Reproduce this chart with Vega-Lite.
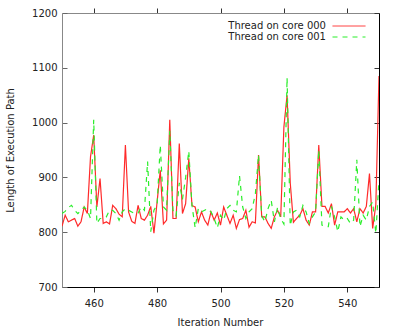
{
  "$schema": "https://vega.github.io/schema/vega-lite/v6.json",
  "width": 317,
  "height": 274,
  "autosize": {"type": "none"},
  "padding": {"left": 62, "top": 13, "right": 20, "bottom": 45},
  "config": {
    "view": {"stroke": null},
    "font": "DejaVu Sans",
    "axis": {"grid": false, "labelFontSize": 10, "titleFontSize": 10, "titleFontWeight": "normal", "labelColor": "#222", "titleColor": "#222", "labelFont": "DejaVu Sans", "titleFont": "DejaVu Sans"}
  },
  "data": {"values": [
    {"iteration":450,"thread":"Thread on core 000","length":811},
    {"iteration":451,"thread":"Thread on core 000","length":831},
    {"iteration":452,"thread":"Thread on core 000","length":819},
    {"iteration":453,"thread":"Thread on core 000","length":822},
    {"iteration":454,"thread":"Thread on core 000","length":825},
    {"iteration":455,"thread":"Thread on core 000","length":811},
    {"iteration":456,"thread":"Thread on core 000","length":819},
    {"iteration":457,"thread":"Thread on core 000","length":846},
    {"iteration":458,"thread":"Thread on core 000","length":834},
    {"iteration":459,"thread":"Thread on core 000","length":938},
    {"iteration":460,"thread":"Thread on core 000","length":977},
    {"iteration":461,"thread":"Thread on core 000","length":846},
    {"iteration":462,"thread":"Thread on core 000","length":898},
    {"iteration":463,"thread":"Thread on core 000","length":816},
    {"iteration":464,"thread":"Thread on core 000","length":819},
    {"iteration":465,"thread":"Thread on core 000","length":815},
    {"iteration":466,"thread":"Thread on core 000","length":849},
    {"iteration":467,"thread":"Thread on core 000","length":843},
    {"iteration":468,"thread":"Thread on core 000","length":833},
    {"iteration":469,"thread":"Thread on core 000","length":828},
    {"iteration":470,"thread":"Thread on core 000","length":959},
    {"iteration":471,"thread":"Thread on core 000","length":837},
    {"iteration":472,"thread":"Thread on core 000","length":820},
    {"iteration":473,"thread":"Thread on core 000","length":816},
    {"iteration":474,"thread":"Thread on core 000","length":849},
    {"iteration":475,"thread":"Thread on core 000","length":825},
    {"iteration":476,"thread":"Thread on core 000","length":822},
    {"iteration":477,"thread":"Thread on core 000","length":831},
    {"iteration":478,"thread":"Thread on core 000","length":847},
    {"iteration":479,"thread":"Thread on core 000","length":798},
    {"iteration":480,"thread":"Thread on core 000","length":855},
    {"iteration":481,"thread":"Thread on core 000","length":913},
    {"iteration":482,"thread":"Thread on core 000","length":815},
    {"iteration":483,"thread":"Thread on core 000","length":822},
    {"iteration":484,"thread":"Thread on core 000","length":1005},
    {"iteration":485,"thread":"Thread on core 000","length":825},
    {"iteration":486,"thread":"Thread on core 000","length":825},
    {"iteration":487,"thread":"Thread on core 000","length":962},
    {"iteration":488,"thread":"Thread on core 000","length":834},
    {"iteration":489,"thread":"Thread on core 000","length":852},
    {"iteration":490,"thread":"Thread on core 000","length":935},
    {"iteration":491,"thread":"Thread on core 000","length":849},
    {"iteration":492,"thread":"Thread on core 000","length":846},
    {"iteration":493,"thread":"Thread on core 000","length":819},
    {"iteration":494,"thread":"Thread on core 000","length":837},
    {"iteration":495,"thread":"Thread on core 000","length":822},
    {"iteration":496,"thread":"Thread on core 000","length":813},
    {"iteration":497,"thread":"Thread on core 000","length":837},
    {"iteration":498,"thread":"Thread on core 000","length":822},
    {"iteration":499,"thread":"Thread on core 000","length":835},
    {"iteration":500,"thread":"Thread on core 000","length":813},
    {"iteration":501,"thread":"Thread on core 000","length":846},
    {"iteration":502,"thread":"Thread on core 000","length":831},
    {"iteration":503,"thread":"Thread on core 000","length":816},
    {"iteration":504,"thread":"Thread on core 000","length":831},
    {"iteration":505,"thread":"Thread on core 000","length":807},
    {"iteration":506,"thread":"Thread on core 000","length":823},
    {"iteration":507,"thread":"Thread on core 000","length":825},
    {"iteration":508,"thread":"Thread on core 000","length":840},
    {"iteration":509,"thread":"Thread on core 000","length":809},
    {"iteration":510,"thread":"Thread on core 000","length":819},
    {"iteration":511,"thread":"Thread on core 000","length":817},
    {"iteration":512,"thread":"Thread on core 000","length":941},
    {"iteration":513,"thread":"Thread on core 000","length":828},
    {"iteration":514,"thread":"Thread on core 000","length":828},
    {"iteration":515,"thread":"Thread on core 000","length":816},
    {"iteration":516,"thread":"Thread on core 000","length":807},
    {"iteration":517,"thread":"Thread on core 000","length":828},
    {"iteration":518,"thread":"Thread on core 000","length":840},
    {"iteration":519,"thread":"Thread on core 000","length":828},
    {"iteration":520,"thread":"Thread on core 000","length":992},
    {"iteration":521,"thread":"Thread on core 000","length":1050},
    {"iteration":522,"thread":"Thread on core 000","length":890},
    {"iteration":523,"thread":"Thread on core 000","length":818},
    {"iteration":524,"thread":"Thread on core 000","length":825},
    {"iteration":525,"thread":"Thread on core 000","length":831},
    {"iteration":526,"thread":"Thread on core 000","length":843},
    {"iteration":527,"thread":"Thread on core 000","length":822},
    {"iteration":528,"thread":"Thread on core 000","length":813},
    {"iteration":529,"thread":"Thread on core 000","length":837},
    {"iteration":530,"thread":"Thread on core 000","length":837},
    {"iteration":531,"thread":"Thread on core 000","length":959},
    {"iteration":532,"thread":"Thread on core 000","length":847},
    {"iteration":533,"thread":"Thread on core 000","length":847},
    {"iteration":534,"thread":"Thread on core 000","length":835},
    {"iteration":535,"thread":"Thread on core 000","length":852},
    {"iteration":536,"thread":"Thread on core 000","length":813},
    {"iteration":537,"thread":"Thread on core 000","length":837},
    {"iteration":538,"thread":"Thread on core 000","length":837},
    {"iteration":539,"thread":"Thread on core 000","length":837},
    {"iteration":540,"thread":"Thread on core 000","length":843},
    {"iteration":541,"thread":"Thread on core 000","length":835},
    {"iteration":542,"thread":"Thread on core 000","length":843},
    {"iteration":543,"thread":"Thread on core 000","length":819},
    {"iteration":544,"thread":"Thread on core 000","length":843},
    {"iteration":545,"thread":"Thread on core 000","length":835},
    {"iteration":546,"thread":"Thread on core 000","length":847},
    {"iteration":547,"thread":"Thread on core 000","length":907},
    {"iteration":548,"thread":"Thread on core 000","length":807},
    {"iteration":549,"thread":"Thread on core 000","length":850},
    {"iteration":550,"thread":"Thread on core 000","length":1085},
    {"iteration":450,"thread":"Thread on core 001","length":834},
    {"iteration":451,"thread":"Thread on core 001","length":838},
    {"iteration":452,"thread":"Thread on core 001","length":845},
    {"iteration":453,"thread":"Thread on core 001","length":849},
    {"iteration":454,"thread":"Thread on core 001","length":840},
    {"iteration":455,"thread":"Thread on core 001","length":834},
    {"iteration":456,"thread":"Thread on core 001","length":840},
    {"iteration":457,"thread":"Thread on core 001","length":846},
    {"iteration":458,"thread":"Thread on core 001","length":840},
    {"iteration":459,"thread":"Thread on core 001","length":825},
    {"iteration":460,"thread":"Thread on core 001","length":1005},
    {"iteration":461,"thread":"Thread on core 001","length":816},
    {"iteration":462,"thread":"Thread on core 001","length":825},
    {"iteration":463,"thread":"Thread on core 001","length":825},
    {"iteration":464,"thread":"Thread on core 001","length":828},
    {"iteration":465,"thread":"Thread on core 001","length":840},
    {"iteration":466,"thread":"Thread on core 001","length":840},
    {"iteration":467,"thread":"Thread on core 001","length":834},
    {"iteration":468,"thread":"Thread on core 001","length":822},
    {"iteration":469,"thread":"Thread on core 001","length":837},
    {"iteration":470,"thread":"Thread on core 001","length":843},
    {"iteration":471,"thread":"Thread on core 001","length":840},
    {"iteration":472,"thread":"Thread on core 001","length":837},
    {"iteration":473,"thread":"Thread on core 001","length":834},
    {"iteration":474,"thread":"Thread on core 001","length":835},
    {"iteration":475,"thread":"Thread on core 001","length":846},
    {"iteration":476,"thread":"Thread on core 001","length":840},
    {"iteration":477,"thread":"Thread on core 001","length":929},
    {"iteration":478,"thread":"Thread on core 001","length":801},
    {"iteration":479,"thread":"Thread on core 001","length":840},
    {"iteration":480,"thread":"Thread on core 001","length":850},
    {"iteration":481,"thread":"Thread on core 001","length":959},
    {"iteration":482,"thread":"Thread on core 001","length":846},
    {"iteration":483,"thread":"Thread on core 001","length":840},
    {"iteration":484,"thread":"Thread on core 001","length":985},
    {"iteration":485,"thread":"Thread on core 001","length":840},
    {"iteration":486,"thread":"Thread on core 001","length":830},
    {"iteration":487,"thread":"Thread on core 001","length":890},
    {"iteration":488,"thread":"Thread on core 001","length":860},
    {"iteration":489,"thread":"Thread on core 001","length":900},
    {"iteration":490,"thread":"Thread on core 001","length":948},
    {"iteration":491,"thread":"Thread on core 001","length":849},
    {"iteration":492,"thread":"Thread on core 001","length":808},
    {"iteration":493,"thread":"Thread on core 001","length":843},
    {"iteration":494,"thread":"Thread on core 001","length":837},
    {"iteration":495,"thread":"Thread on core 001","length":840},
    {"iteration":496,"thread":"Thread on core 001","length":843},
    {"iteration":497,"thread":"Thread on core 001","length":837},
    {"iteration":498,"thread":"Thread on core 001","length":825},
    {"iteration":499,"thread":"Thread on core 001","length":808},
    {"iteration":500,"thread":"Thread on core 001","length":831},
    {"iteration":501,"thread":"Thread on core 001","length":822},
    {"iteration":502,"thread":"Thread on core 001","length":843},
    {"iteration":503,"thread":"Thread on core 001","length":849},
    {"iteration":504,"thread":"Thread on core 001","length":840},
    {"iteration":505,"thread":"Thread on core 001","length":837},
    {"iteration":506,"thread":"Thread on core 001","length":903},
    {"iteration":507,"thread":"Thread on core 001","length":846},
    {"iteration":508,"thread":"Thread on core 001","length":825},
    {"iteration":509,"thread":"Thread on core 001","length":837},
    {"iteration":510,"thread":"Thread on core 001","length":843},
    {"iteration":511,"thread":"Thread on core 001","length":870},
    {"iteration":512,"thread":"Thread on core 001","length":941},
    {"iteration":513,"thread":"Thread on core 001","length":830},
    {"iteration":514,"thread":"Thread on core 001","length":819},
    {"iteration":515,"thread":"Thread on core 001","length":843},
    {"iteration":516,"thread":"Thread on core 001","length":858},
    {"iteration":517,"thread":"Thread on core 001","length":819},
    {"iteration":518,"thread":"Thread on core 001","length":845},
    {"iteration":519,"thread":"Thread on core 001","length":825},
    {"iteration":520,"thread":"Thread on core 001","length":815},
    {"iteration":521,"thread":"Thread on core 001","length":1082},
    {"iteration":522,"thread":"Thread on core 001","length":812},
    {"iteration":523,"thread":"Thread on core 001","length":837},
    {"iteration":524,"thread":"Thread on core 001","length":840},
    {"iteration":525,"thread":"Thread on core 001","length":828},
    {"iteration":526,"thread":"Thread on core 001","length":849},
    {"iteration":527,"thread":"Thread on core 001","length":837},
    {"iteration":528,"thread":"Thread on core 001","length":816},
    {"iteration":529,"thread":"Thread on core 001","length":828},
    {"iteration":530,"thread":"Thread on core 001","length":837},
    {"iteration":531,"thread":"Thread on core 001","length":950},
    {"iteration":532,"thread":"Thread on core 001","length":813},
    {"iteration":533,"thread":"Thread on core 001","length":810},
    {"iteration":534,"thread":"Thread on core 001","length":810},
    {"iteration":535,"thread":"Thread on core 001","length":847},
    {"iteration":536,"thread":"Thread on core 001","length":828},
    {"iteration":537,"thread":"Thread on core 001","length":801},
    {"iteration":538,"thread":"Thread on core 001","length":828},
    {"iteration":539,"thread":"Thread on core 001","length":822},
    {"iteration":540,"thread":"Thread on core 001","length":825},
    {"iteration":541,"thread":"Thread on core 001","length":816},
    {"iteration":542,"thread":"Thread on core 001","length":822},
    {"iteration":543,"thread":"Thread on core 001","length":932},
    {"iteration":544,"thread":"Thread on core 001","length":810},
    {"iteration":545,"thread":"Thread on core 001","length":831},
    {"iteration":546,"thread":"Thread on core 001","length":822},
    {"iteration":547,"thread":"Thread on core 001","length":847},
    {"iteration":548,"thread":"Thread on core 001","length":855},
    {"iteration":549,"thread":"Thread on core 001","length":798},
    {"iteration":550,"thread":"Thread on core 001","length":895}
  ]},
  "layer": [
    {
      "mark": {"type": "line", "strokeWidth": 1.2, "clip": true},
      "encoding": {
        "x": {"field": "iteration", "type": "quantitative", "scale": {"domain": [450, 550], "nice": false},
          "axis": {"orient": "bottom", "values": [460, 480, 500, 520, 540], "tickSize": 5, "tickColor": "#333", "domainColor": "#000", "labelPadding": 6, "labelFlush": false, "title": "Iteration Number", "titleBaseline": "alphabetic", "titleY": 38, "titleX": 158}},
        "y": {"field": "length", "type": "quantitative", "scale": {"domain": [700, 1200], "nice": false, "zero": false},
          "axis": {"orient": "left", "values": [700, 800, 900, 1000, 1100, 1200], "format": "d", "tickSize": -5, "tickColor": "#666", "domainColor": "#888", "labelPadding": 10, "labelFlush": false, "labelOverlap": false, "title": "Length of Execution Path", "titleAngle": -90, "titleAlign": "center", "titleBaseline": "middle", "titleX": -52, "titleY": 137}},
        "color": {"field": "thread", "type": "nominal",
          "scale": {"domain": ["Thread on core 000", "Thread on core 001"], "range": ["#ff2a2a", "#2aee2a"]},
          "legend": {"orient": "none", "legendX": 281.5, "legendY": 7.5, "title": null, "padding": 0, "rowPadding": 0, "symbolType": "M-3.3,0H3.3", "symbolSize": 100, "symbolStrokeWidth": 1, "symbolOffset": 0, "labelAlign": "right", "labelOffset": -28.5, "labelFontSize": 10, "labelFont": "DejaVu Sans", "labelColor": "#222"}},
        "strokeDash": {"field": "thread", "type": "nominal",
          "scale": {"domain": ["Thread on core 000", "Thread on core 001"], "range": [[1, 0], [5, 5]]},
          "legend": {"orient": "none", "legendX": 281.5, "legendY": 7.5, "title": null, "padding": 0, "rowPadding": 0, "symbolType": "M-3.3,0H3.3", "symbolSize": 100, "symbolStrokeWidth": 1, "symbolOffset": 0, "labelAlign": "right", "labelOffset": -28.5, "labelFontSize": 10, "labelFont": "DejaVu Sans", "labelColor": "#222"}}
      }
    },
    {
      "mark": {"type": "line", "opacity": 0},
      "encoding": {
        "x": {"field": "iteration", "type": "quantitative",
          "axis": {"orient": "top", "values": [460, 480, 500, 520, 540], "tickSize": 5, "tickColor": "#333", "domainColor": "#888", "labels": false, "title": null}},
        "y": {"field": "length", "type": "quantitative",
          "axis": {"orient": "right", "values": [700, 800, 900, 1000, 1100, 1200], "tickSize": -5, "tickColor": "#333", "domainColor": "#000", "labels": false, "title": null}}
      }
    }
  ],
  "resolve": {"axis": {"x": "independent", "y": "independent"}}
}
